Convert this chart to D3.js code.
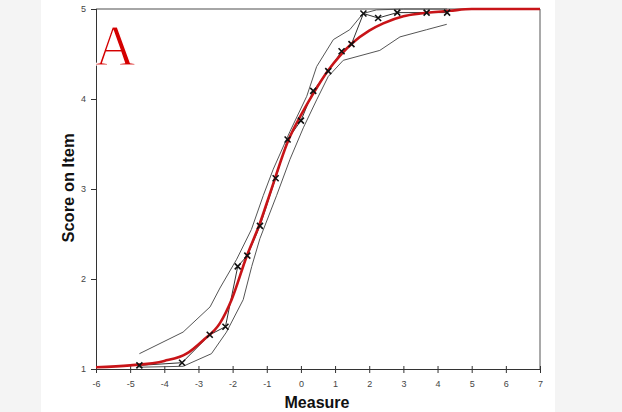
<!DOCTYPE html>
<html>
<head>
<meta charset="utf-8">
<script src="https://cdn.jsdelivr.net/npm/d3@7"></script>
<style>
  html, body { margin: 0; padding: 0; background: #f4f4f4; }
  svg { display: block; }
  .tick text { font-family: Arial, "Liberation Sans", sans-serif; font-size: 9px; fill: #444; }
</style>
</head>
<body>
<div id="chart"></div>
<script>
const width = 622, height = 412;

// axis ticks
const xTicks = [-6, -5, -4, -3, -2, -1, 0, 1, 2, 3, 4, 5, 6, 7];
const yTicks = [1, 2, 3, 4, 5];

// observed item scores (crosses)
const obsX = [-4.73, -3.48, -2.67, -2.21, -1.85, -1.57, -1.20, -0.74, -0.39, 0.00, 0.36, 0.80, 1.19, 1.48, 1.83, 2.26, 2.82, 3.68, 4.28];
const obsY = [1.04, 1.07, 1.38, 1.47, 2.14, 2.26, 2.59, 3.12, 3.55, 3.76, 4.09, 4.31, 4.53, 4.61, 4.95, 4.90, 4.96, 4.96, 4.96];

// upper confidence band
const upX = [-4.73, -3.45, -2.66, -2.37, -1.88, -1.45, -1.10, -0.81, -0.32, 0.17, 0.46, 0.95, 1.43, 1.82, 2.21, 3.00, 4.28];
const upY = [1.17, 1.41, 1.69, 1.90, 2.22, 2.55, 2.93, 3.22, 3.64, 4.03, 4.36, 4.66, 4.77, 4.95, 4.99, 5.00, 5.00];

// lower confidence band
const loX = [-4.73, -3.45, -2.62, -2.18, -1.69, -1.44, -1.20, -0.71, -0.32, 0.07, 0.46, 0.80, 1.24, 2.31, 2.90, 3.68, 4.27];
const loY = [1.02, 1.03, 1.17, 1.41, 1.77, 2.14, 2.45, 2.93, 3.33, 3.68, 3.99, 4.25, 4.43, 4.54, 4.69, 4.77, 4.83];

// model expected score curve
const redX = [-6, -5, -4, -3.35, -2.86, -2.37, -2.03, -1.59, -1.2, -0.88, -0.37, 0, 0.36, 0.8, 1.14, 1.5, 2, 2.41, 3, 3.5, 4.36, 5, 7];
const redY = [1.02, 1.04, 1.09, 1.17, 1.32, 1.51, 1.77, 2.25, 2.62, 2.98, 3.54, 3.82, 4.06, 4.32, 4.48, 4.62, 4.76, 4.84, 4.92, 4.95, 4.98, 5, 5];

const svg = d3.select("#chart").append("svg")
    .attr("width", width)
    .attr("height", height);

// white page area
svg.append("rect")
    .attr("x", 41).attr("y", 0)
    .attr("width", 514).attr("height", height)
    .attr("fill", "#fff");

const x = d3.scaleLinear().domain([-6, 7]).range([96, 540]);
const y = d3.scaleLinear().domain([1, 5]).range([369, 9]);

const zip = (xs, ys) => xs.map((v, i) => [v, ys[i]]);

// frame: top and right
svg.append("line")
    .attr("x1", x(-6)).attr("x2", x(7))
    .attr("y1", y(5)).attr("y2", y(5))
    .attr("stroke", "#888").attr("stroke-width", 1.5);
svg.append("line")
    .attr("x1", x(7)).attr("x2", x(7))
    .attr("y1", y(5)).attr("y2", y(1))
    .attr("stroke", "#555").attr("stroke-width", 1);

// x axis
const gx = svg.append("g")
    .attr("transform", `translate(0,${y(1)})`)
    .call(d3.axisBottom(x).tickValues(xTicks).tickSize(4).tickPadding(8).tickFormat(d => String(d)));
gx.select(".domain").attr("stroke", "#333");
gx.selectAll(".tick line").attr("y1", -3).attr("stroke", "#333");

// y axis
const gy = svg.append("g")
    .attr("transform", `translate(${x(-6)},0)`)
    .call(d3.axisLeft(y).tickValues(yTicks).tickSize(5).tickPadding(5).tickFormat(d => String(d)));
gy.select(".domain").attr("stroke", "#333");
gy.selectAll(".tick line").attr("x1", 1).attr("stroke", "#333");

// axis titles
svg.append("text")
    .attr("x", 317).attr("y", 408)
    .attr("text-anchor", "middle")
    .attr("font-family", "Arial, 'Liberation Sans', sans-serif")
    .attr("font-weight", "bold").attr("font-size", 16)
    .attr("fill", "#111")
    .text("Measure");

svg.append("text")
    .attr("transform", `translate(74,188) rotate(-90)`)
    .attr("text-anchor", "middle")
    .attr("font-family", "Arial, 'Liberation Sans', sans-serif")
    .attr("font-weight", "bold").attr("font-size", 16.5)
    .attr("fill", "#111")
    .text("Score on Item");

// panel letter (thinned with a white outline)
svg.append("text")
    .attr("x", 95).attr("y", 65)
    .attr("font-family", "'Liberation Serif', 'DejaVu Serif', serif")
    .attr("font-size", 56)
    .attr("fill", "#d40000")
    .attr("stroke", "#fff")
    .attr("stroke-width", 1.2)
    .text("A");

const line = d3.line().x(d => x(d[0])).y(d => y(d[1]));

// confidence bands
[zip(upX, upY), zip(loX, loY)].forEach(band => {
    svg.append("path")
        .datum(band)
        .attr("d", line)
        .attr("fill", "none")
        .attr("stroke", "#555")
        .attr("stroke-width", 1);
});

// observed line
svg.append("path")
    .datum(zip(obsX, obsY))
    .attr("d", line)
    .attr("fill", "none")
    .attr("stroke", "#333")
    .attr("stroke-width", 1);

// model curve
svg.append("path")
    .datum(zip(redX, redY))
    .attr("d", d3.line().x(d => x(d[0])).y(d => y(d[1])).curve(d3.curveMonotoneX))
    .attr("fill", "none")
    .attr("stroke", "#c81418")
    .attr("stroke-width", 2.6);

// crosses
const s = 3;
svg.append("g")
    .selectAll("path")
    .data(zip(obsX, obsY))
    .join("path")
    .attr("d", d => {
        const cx = x(d[0]), cy = y(d[1]);
        return `M${cx - s},${cy - s}L${cx + s},${cy + s}M${cx - s},${cy + s}L${cx + s},${cy - s}`;
    })
    .attr("stroke", "#111")
    .attr("stroke-width", 1.6);
</script>
</body>
</html>
